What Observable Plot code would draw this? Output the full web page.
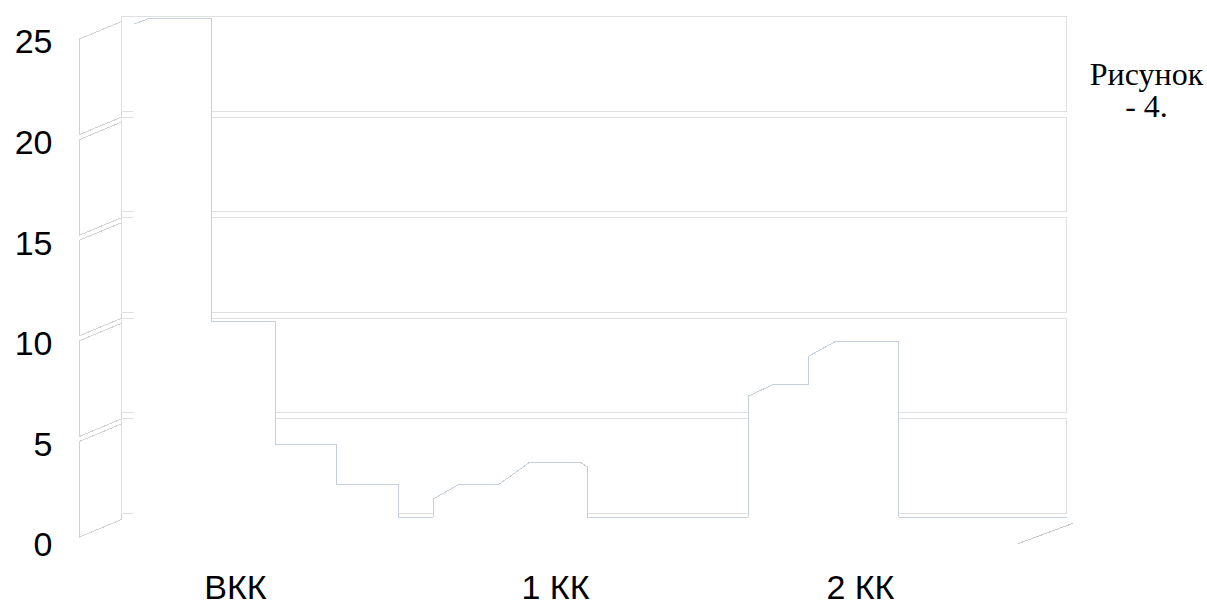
<!DOCTYPE html>
<html><head><meta charset="utf-8">
<script src="https://cdn.jsdelivr.net/npm/d3@7"></script>
<script src="https://cdn.jsdelivr.net/npm/@observablehq/plot@0.6"></script>
<style>body{margin:0;background:#fff}</style>
</head><body><div id="chart"></div>
<script>
// ---- data ----
const categories = ["ВКК", "1 КК", "2 КК"];
const categoryTicks = [0.495, 1.511, 2.479];
const yTicks = [0, 5, 10, 15, 20, 25];
// profile along the categories (x in category units, y in value units on the back wall)
const profileX = [0.04, 0.09, 0.286, 0.286, 0.489, 0.489, 0.683, 0.683, 0.879, 0.879, 0.990, 0.990, 1.069, 1.196, 1.294, 1.459, 1.478, 1.478, 1.989, 1.989, 2.071, 2.182, 2.182, 2.264, 2.467, 2.467, 3.0];
const profileY = [24.5, 24.8, 24.8, 9.7, 9.7, 3.6, 3.6, 1.6, 1.6, 0, 0, 0.9, 1.6, 1.6, 2.7, 2.7, 2.5, 0, 0, 6.0, 6.6, 6.6, 8.0, 8.7, 8.7, 0, 0];
const caption = "Рисунок\n- 4.";

// ---- layout / style ----
const W = 1207, H = 606, mL = 79, mR = 183, mT = 42, mB = 61;
const depthDx = 42, depthDy = -28.5;
const pxPerX = (W - mL - mR) / 3, pxPerY = (H - mT - mB) / 25;
const wallDepth = depthDx / pxPerX;
const liftFront = 6 / pxPerY, liftBack = 23.5 / pxPerY, inset = 2.5 / pxPerY;

const profile = profileX.map((x, i) => ({x, y: profileY[i]}));
const bands = d3.range(yTicks.length - 1).map(i => ({lo: yTicks[i], hi: yTicks[i + 1]}));
const wall = bands.flatMap((b, i) => [
  {band: i, x: 0, y: b.lo + liftFront + inset},
  {band: i, x: wallDepth, y: b.lo + liftBack + inset},
  {band: i, x: wallDepth, y: b.hi + liftBack - inset},
  {band: i, x: 0, y: b.hi + liftFront - inset},
  {band: i, x: 0, y: b.lo + liftFront + inset}
]);
// right edge of the floor (depth decoration)
const floorEdge = [
  {x: 3 - 6 / pxPerX, y: 2 / pxPerY},
  {x: 3 + (depthDx + 6) / pxPerX, y: 22 / pxPerY}
];

const chart = Plot.plot({
  width: W, height: H,
  marginLeft: mL, marginRight: mR, marginTop: mT, marginBottom: mB,
  x: {domain: [0, 3]},
  y: {domain: [0, 25]},
  style: {fontFamily: "'Liberation Sans', Arial, sans-serif", fontSize: "34px", background: "#fff", color: "#000", overflow: "visible"},
  marks: [
    Plot.line(wall, {x: "x", y: "y", z: "band", stroke: "#d2d2d2", strokeWidth: 1, shapeRendering: "crispEdges"}),
    Plot.line(floorEdge, {x: "x", y: "y", stroke: "#c8c8c8", strokeWidth: 1, shapeRendering: "crispEdges"}),
    Plot.rect(bands, {x1: 0, x2: 3, y1: "lo", y2: "hi", insetTop: 3, insetBottom: 3, dx: depthDx, dy: depthDy, fill: "#fff", stroke: "#e0e0e0", shapeRendering: "crispEdges"}),
    Plot.areaY(profile, {x: "x", y1: 0, y2: "y", fill: "#fff", dx: depthDx, dy: depthDy}),
    Plot.line(profile, {x: "x", y: "y", stroke: "#c6d0da", strokeWidth: 1, dx: depthDx, dy: depthDy, shapeRendering: "crispEdges"}),
    Plot.axisY({ticks: yTicks, tickSize: 0, tickPadding: 27, fontSize: 34, label: null}),
    Plot.axisX({ticks: categoryTicks, tickFormat: (d, i) => categories[i], tickSize: 0, tickPadding: 29, fontSize: 34, label: null}),
    Plot.text([caption], {text: d => d, frameAnchor: "top-right", dx: 122, dy: 48, textAnchor: "middle", lineAnchor: "middle", lineHeight: 1.0, fontFamily: "'Liberation Serif', 'Times New Roman', serif", fontSize: 32, fill: "#000"})
  ]
});
document.getElementById("chart").appendChild(chart);
</script>
</body></html>
